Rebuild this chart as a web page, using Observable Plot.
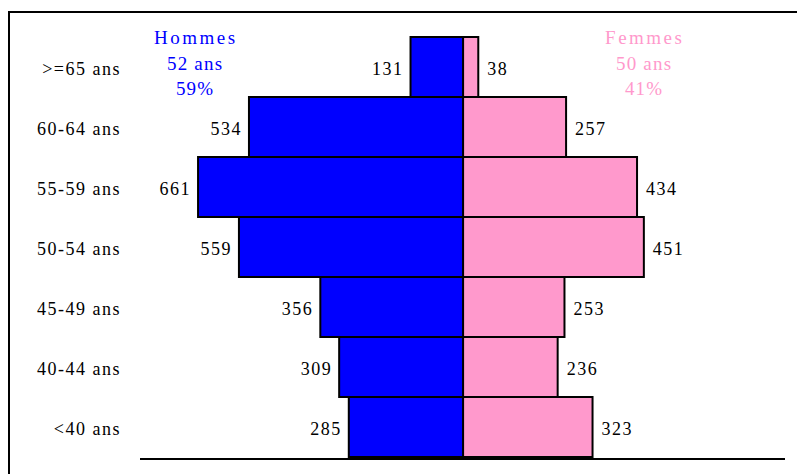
<!DOCTYPE html>
<html>
<head>
<meta charset="utf-8">
<script src="https://cdn.jsdelivr.net/npm/d3@7"></script>
<script src="https://cdn.jsdelivr.net/npm/@observablehq/plot@0.6"></script>
<style>
  html, body { margin: 0; padding: 0; background: #fff; }
  #chart { position: relative; width: 797px; height: 474px; overflow: hidden; }
</style>
</head>
<body>
<div id="chart"></div>
<script>
const categories = [">=65 ans", "60-64 ans", "55-59 ans", "50-54 ans", "45-49 ans", "40-44 ans", "<40 ans"];
const hommes = [131, 534, 661, 559, 356, 309, 285];
const femmes = [38, 257, 434, 451, 253, 236, 323];
const hommesLines = ["Hommes", "52 ans", "59%"];
const femmesLines = ["Femmes", "50 ans", "41%"];

const blue = "#0000FF";
const pink = "#FF99CC";

const data = categories.map((c, i) => ({age: c, h: hommes[i], f: femmes[i]}));

const titleMarks = (lines, cx, color) => lines.map((t, i) =>
  Plot.text([t], {
    text: d => d,
    frameAnchor: "top-left",
    dx: cx + (i === 0 ? 1.25 : 0.6),
    dy: 2.6 + i * 25.5,
    textAnchor: "middle",
    lineAnchor: "middle",
    fill: color,
    fontSize: 19
  })
);

const chart = Plot.plot({
  width: 797,
  height: 474,
  marginLeft: 0,
  marginRight: 0,
  marginTop: 35,
  marginBottom: 15,
  style: {fontFamily: "'Liberation Serif', 'Times New Roman', serif", fontSize: "18px", background: "white", color: "black"},
  x: {domain: [-1155, 833], axis: null},
  y: {domain: categories, type: "band", padding: 0, axis: null},
  marks: [
    Plot.barX(data, {y: "age", x1: 0, x2: d => d.f, fill: pink, stroke: "black", strokeWidth: 2}),
    Plot.barX(data, {y: "age", x1: 0, x2: d => -d.h, fill: blue, stroke: "black", strokeWidth: 2}),
    Plot.text(data, {y: "age", x: d => -d.h, text: d => String(d.h), textAnchor: "end", dx: -7.5, dy: 2, fill: "black", fontSize: 18}),
    Plot.text(data, {y: "age", x: d => d.f, text: d => String(d.f), textAnchor: "start", dx: 8.5, dy: 2, fill: "black", fontSize: 18}),
    Plot.text(data, {y: "age", text: "age", frameAnchor: "left", dx: 120.5, dy: 2, textAnchor: "end", fill: "black", fontSize: 18}),
    ...titleMarks(hommesLines, 194, blue),
    ...titleMarks(femmesLines, 643, pink)
  ]
});

document.getElementById("chart").appendChild(chart);

// letter spacing like the original rendering
const svg = d3.select(chart);
const textGroups = svg.selectAll('g[aria-label="text"]').nodes();
textGroups.forEach((g, i) => {
  let ls = "1.5px";
  if (i >= 3) {
    const k = (i - 3) % 3;
    ls = k === 0 ? "2.5px" : "1.2px";
  }
  d3.select(g).selectAll("text").style("letter-spacing", ls);
});

// decorative frame and baseline
svg.append("line").attr("x1", 9).attr("y1", 12).attr("x2", 797).attr("y2", 12)
  .attr("stroke", "black").attr("stroke-width", 2);
svg.append("line").attr("x1", 9).attr("y1", 11).attr("x2", 9).attr("y2", 474)
  .attr("stroke", "black").attr("stroke-width", 2);
svg.append("line").attr("x1", 140).attr("y1", 459).attr("x2", 785).attr("y2", 459)
  .attr("stroke", "black").attr("stroke-width", 2);
</script>
</body>
</html>
